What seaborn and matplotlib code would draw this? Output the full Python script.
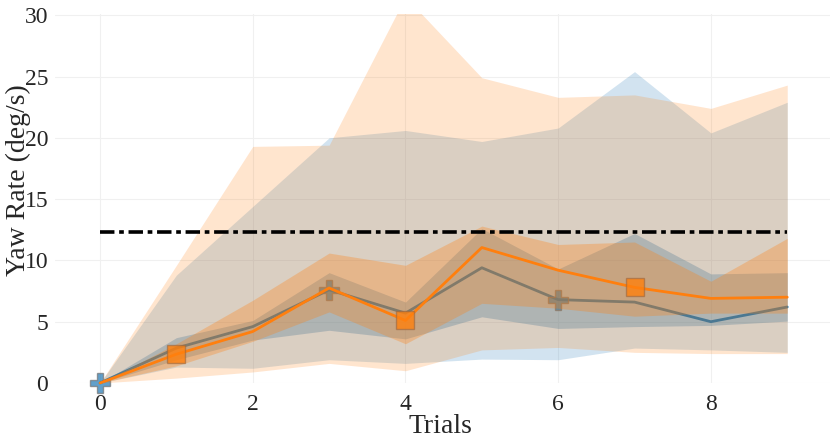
import numpy as np
import pandas as pd
import matplotlib
matplotlib.use("Agg")
import matplotlib.pyplot as plt
import seaborn as sns

trials = [0, 1, 2, 3, 4, 5, 6, 7, 8, 9]

blue_median = [0, 2.85, 4.6, 7.6, 5.7, 9.4, 6.8, 6.6, 5.0, 6.2]
blue_q1 = [0, 1.9, 3.5, 4.3, 3.6, 5.4, 4.45, 4.6, 4.7, 5.05]
blue_q3 = [0, 3.7, 5.1, 9.0, 6.6, 12.6, 9.3, 12.2, 8.9, 9.0]
blue_min = [0, 1.3, 1.2, 1.9, 1.6, 1.95, 1.9, 2.85, 2.7, 2.5]
blue_max = [0, 8.8, 14.4, 20.0, 20.6, 19.7, 20.8, 25.4, 20.4, 22.9]

orange_median = [0, 2.35, 4.2, 7.75, 5.1, 11.05, 9.2, 7.8, 6.9, 7.0]
orange_q1 = [0, 1.4, 3.4, 5.8, 3.2, 6.5, 6.1, 5.45, 5.7, 5.7]
orange_q3 = [0, 3.2, 6.75, 10.6, 9.6, 12.8, 11.3, 11.5, 8.3, 11.8]
orange_min = [0, 0.4, 0.9, 1.6, 1.0, 2.7, 2.9, 2.5, 2.4, 2.4]
orange_max = [0, 9.6, 19.3, 19.4, 31.5, 24.9, 23.3, 23.5, 22.4, 24.3]

threshold = 12.35
x_ticks = [0, 2, 4, 6, 8]
y_ticks = [0, 5, 10, 15, 20, 25, 30]

BLUE = "#1f77b4"
ORANGE = "#ff7f0e"

sns.set_theme(style="white")
plt.rcParams["font.family"] = ["Liberation Serif", "DejaVu Serif"]

fig = plt.figure(figsize=(8.3, 4.44), dpi=100)
ax = fig.add_axes([55 / 830, (444 - 383) / 444, 775 / 830, 369 / 444])

df = pd.DataFrame({
    "trial": trials,
    "blue": blue_median,
    "orange": orange_median,
})

# blue series
ax.fill_between(trials, blue_min, blue_max, color=BLUE, alpha=0.2, lw=0)
ax.fill_between(trials, blue_q1, blue_q3, color=BLUE, alpha=0.3, lw=0)
sns.lineplot(data=df, x="trial", y="blue", ax=ax, color=BLUE, lw=2.0,
             marker="P", markevery=[0, 3, 6], ms=14,
             mfc=(0.12, 0.47, 0.71, 0.7), mec=(0.45, 0.45, 0.45, 0.7), mew=1.0,
             clip_on=False, zorder=3)

# orange series
ax.fill_between(trials, orange_min, orange_max, color=ORANGE, alpha=0.2, lw=0, zorder=4)
ax.fill_between(trials, orange_q1, orange_q3, color=ORANGE, alpha=0.3, lw=0, zorder=4)
sns.lineplot(data=df, x="trial", y="orange", ax=ax, color=ORANGE, lw=2.0,
             marker="s", markevery=[1, 4, 7], ms=13,
             mfc=(1.0, 0.5, 0.05, 0.8), mec=(0.6, 0.4, 0.25, 0.6), mew=1.0,
             clip_on=False, zorder=5)

ax.plot([trials[0], trials[-1]], [threshold, threshold], color="black", lw=2.6,
        dashes=(4, 1.3, 1.3, 1.3), zorder=6)

ax.set_xlim(-0.59, 9.56)
ax.set_ylim(0, 30.1)
ax.set_xticks(x_ticks)
ax.set_yticks(y_ticks)
ax.tick_params(axis="both", labelsize=17, length=0)
ax.tick_params(axis="x", pad=8)
ax.tick_params(axis="y", pad=5)
ax.grid(True, color="#f0f0f0", lw=0.8)
ax.set_axisbelow(True)
for s in ax.spines.values():
    s.set_visible(False)

ax.set_xlabel("Trials", fontsize=20)
ax.set_ylabel("Yaw Rate (deg/s)", fontsize=20)
ax.xaxis.set_label_coords((440 - 55) / 775, (383 - 414) / 369)
ax.yaxis.set_label_coords((31 - 55) / 775, (383 - 180) / 369)

fig.savefig("out.png", dpi=100)
